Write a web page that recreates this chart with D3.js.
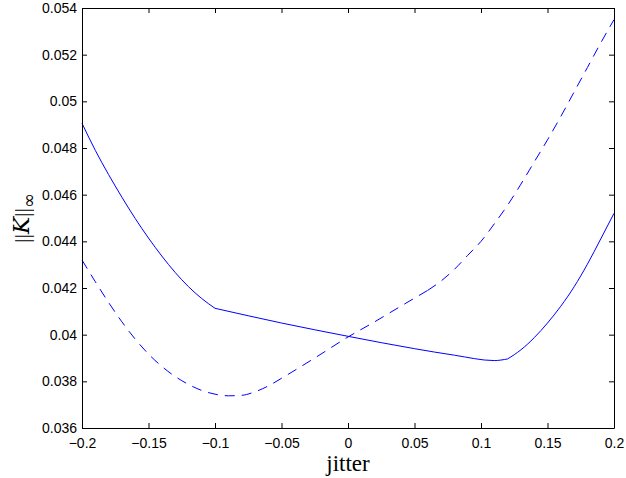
<!DOCTYPE html>
<html>
<head>
<meta charset="utf-8">
<script src="https://cdn.jsdelivr.net/npm/d3@7"></script>
<style>
  body { margin: 0; background: #fff; }
</style>
</head>
<body>
<div id="chart"></div>
<script>
// jitter values and the two curves
var solidX = [-0.2, -0.19, -0.18, -0.17, -0.16, -0.15, -0.14, -0.13, -0.12, -0.11, -0.1,
              -0.05, 0, 0.05, 0.08, 0.11, 0.12, 0.13, 0.14, 0.15, 0.16, 0.17, 0.18, 0.19, 0.2];
var solidY = [0.04906, 0.0479, 0.04686, 0.04589, 0.04498, 0.04414, 0.04337, 0.04267, 0.04206, 0.04155, 0.04113,
              0.0405, 0.03993, 0.0394, 0.03912, 0.03889, 0.03896, 0.03935, 0.03987, 0.0405, 0.04122, 0.04205, 0.04302, 0.0441, 0.0452];
var solidBreaks = [-0.1, 0.12];   // visible kinks in the solid curve

var dashX = [-0.2, -0.19, -0.18, -0.17, -0.16, -0.15, -0.14, -0.13, -0.12, -0.11, -0.1, -0.09, -0.08, -0.07,
             -0.06, -0.05, -0.025, 0, 0.02, 0.04, 0.06, 0.07, 0.08, 0.09, 0.1, 0.11, 0.12, 0.13, 0.14,
             0.15, 0.16, 0.17, 0.18, 0.19, 0.2];
var dashY = [0.0432, 0.04227, 0.04138, 0.04055, 0.03981, 0.03917, 0.03864, 0.03821, 0.03787, 0.03761, 0.03745, 0.03738, 0.0374, 0.03755,
             0.0378, 0.03813, 0.039, 0.0399, 0.04055, 0.04123, 0.0419, 0.0423, 0.0428, 0.0434, 0.044, 0.04475, 0.04555, 0.04645, 0.0474,
             0.04835, 0.04935, 0.0504, 0.05145, 0.0525, 0.0535];
var dashBreaks = [0.06];

var xTicks = [-0.2, -0.15, -0.1, -0.05, 0, 0.05, 0.1, 0.15, 0.2];
var xTickLabels = ["\u22120.2", "\u22120.15", "\u22120.1", "\u22120.05", "0", "0.05", "0.1", "0.15", "0.2"];
var yTicks = [0.036, 0.038, 0.04, 0.042, 0.044, 0.046, 0.048, 0.05, 0.052, 0.054];
var yTickLabels = ["0.036", "0.038", "0.04", "0.042", "0.044", "0.046", "0.048", "0.05", "0.052", "0.054"];

var W = 626, H = 478;
var margin = {left: 82, right: 12, top: 8, bottom: 50};

var svg = d3.select("#chart").append("svg")
    .attr("width", W).attr("height", H);

var x = d3.scaleLinear().domain([-0.2, 0.2]).range([margin.left, W - margin.right]);
var y = d3.scaleLinear().domain([0.036, 0.054]).range([H - margin.bottom, margin.top]);

var line = d3.line()
    .curve(d3.curveMonotoneX)
    .x(function(d) { return x(d[0]); })
    .y(function(d) { return y(d[1]); });

// split a curve at its kinks so the smoothing keeps them sharp
function pieces(xs, ys, breaks) {
    var out = [], cur = [];
    xs.forEach(function(v, i) {
        cur.push([v, ys[i]]);
        if (breaks.indexOf(v) >= 0) { out.push(cur); cur = [[v, ys[i]]]; }
    });
    out.push(cur);
    return out;
}

function pathOf(parts) {
    return parts.map(function(p) { return line(p); }).join("");
}

var plot = svg.append("g");

plot.append("path")
    .attr("d", pathOf(pieces(solidX, solidY, solidBreaks)))
    .attr("fill", "none")
    .attr("stroke", "#0000ff")
    .attr("stroke-width", 1);

plot.append("path")
    .attr("d", pathOf(pieces(dashX, dashY, dashBreaks)))
    .attr("fill", "none")
    .attr("stroke", "#0000ff")
    .attr("stroke-width", 1)
    .attr("stroke-dasharray", "10,7");

// axes, ticks inward on all four sides (matlab box)
var tk = 5;
var fmtX = function(d, i) { return xTickLabels[i]; };
var fmtY = function(d, i) { return yTickLabels[i]; };

var axBottom = svg.append("g")
    .attr("transform", "translate(0," + y(0.036) + ")")
    .call(d3.axisBottom(x).tickValues(xTicks).tickFormat(fmtX).tickSizeInner(-tk).tickSizeOuter(0).tickPadding(10));
var axTop = svg.append("g")
    .attr("transform", "translate(0," + y(0.054) + ")")
    .call(d3.axisTop(x).tickValues(xTicks).tickFormat("").tickSizeInner(-tk).tickSizeOuter(0));
var axLeft = svg.append("g")
    .attr("transform", "translate(" + x(-0.2) + ",0)")
    .call(d3.axisLeft(y).tickValues(yTicks).tickFormat(fmtY).tickSizeInner(-tk).tickSizeOuter(0).tickPadding(5));
var axRight = svg.append("g")
    .attr("transform", "translate(" + x(0.2) + ",0)")
    .call(d3.axisRight(y).tickValues(yTicks).tickFormat("").tickSizeInner(-tk).tickSizeOuter(0));

[axBottom, axTop, axLeft, axRight].forEach(function(g) {
    g.select(".domain").attr("stroke", "#000").attr("stroke-width", 1);
    g.selectAll(".tick line").attr("stroke", "#000");
    g.selectAll("text")
        .attr("font-family", "Liberation Sans, Arial, sans-serif")
        .attr("font-size", 14)
        .attr("fill", "#000");
});

// axis labels
svg.append("text")
    .attr("x", x(0))
    .attr("y", 471)
    .attr("text-anchor", "middle")
    .attr("font-family", "Liberation Serif, Times New Roman, serif")
    .attr("font-size", 23)
    .text("jitter");

var ylab = svg.append("text")
    .attr("transform", "translate(29," + y(0.045) + ") rotate(-90)")
    .attr("text-anchor", "middle")
    .attr("font-family", "Liberation Serif, Times New Roman, serif")
    .attr("font-size", 22);
ylab.append("tspan").text("||");
ylab.append("tspan").attr("font-family", "DejaVu Serif, serif").attr("font-style", "italic").attr("font-size", 23).text("K");
ylab.append("tspan").text("||");
ylab.append("tspan").attr("dy", 6).attr("font-size", 18).attr("font-family", "DejaVu Sans, sans-serif").text("\u221e");
</script>
</body>
</html>
